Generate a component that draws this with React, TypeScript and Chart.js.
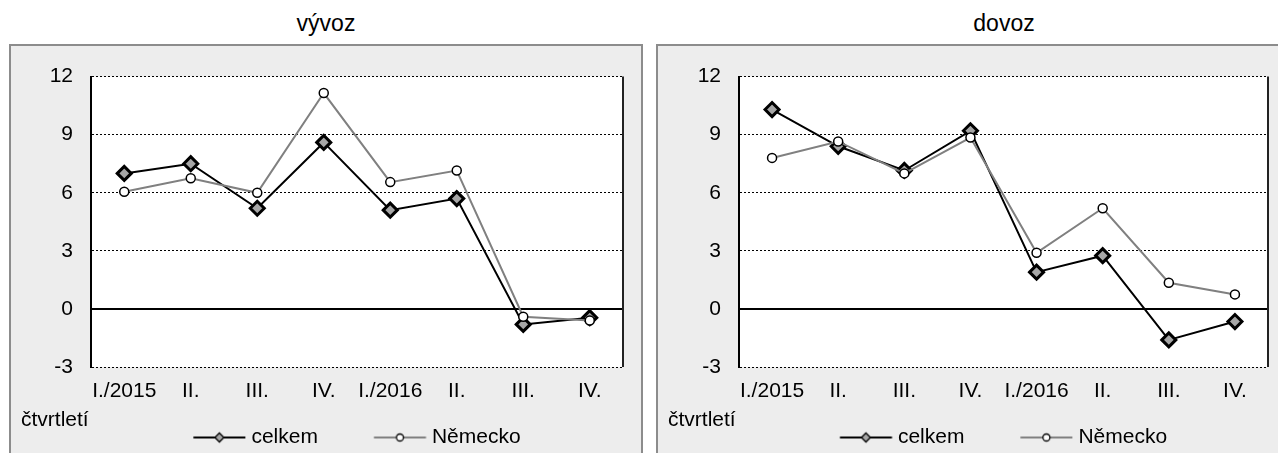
import React, { useEffect, useRef } from 'react';
import { Chart, registerables } from 'chart.js';

Chart.register(...registerables);

// ---- data ----
const categories = ['I./2015', 'II.', 'III.', 'IV.', 'I./2016', 'II.', 'III.', 'IV.'];
const exportTotal = [7.0, 7.5, 5.2, 8.6, 5.1, 5.7, -0.8, -0.45];
const exportGermany = [6.05, 6.75, 6.0, 11.15, 6.55, 7.15, -0.4, -0.6];
const importTotal = [10.3, 8.4, 7.15, 9.2, 1.9, 2.75, -1.6, -0.65];
const importGermany = [7.8, 8.65, 7.0, 8.85, 2.9, 5.2, 1.35, 0.75];
const seriesNames = ['celkem', 'Německo'];
const panelTitles = ['vývoz', 'dovoz'];
const axisLabel = 'čtvrtletí';
const yMin = -3;
const yMax = 12;
const yStep = 3;

const FONT = "'Liberation Sans', Arial, Helvetica, sans-serif";
const FONT_SIZE = 21;

// legend icon geometry: visible line of 52px starting ICON_INSET px into the legend box
const ICON_INSET = 36;
const ICON_BOX = ICON_INSET + 47.5;
const ICON_W = 94;

function makeIcon(kind: 'diamond' | 'circle'): HTMLCanvasElement {
  const c = document.createElement('canvas');
  c.width = ICON_W;
  c.height = 16;
  const g = c.getContext('2d')!;
  const x0 = ICON_W / 2 - ICON_BOX / 2 + ICON_INSET;
  const cx = x0 + 26;
  g.lineWidth = 2;
  g.strokeStyle = kind === 'diamond' ? '#000000' : '#808080';
  g.beginPath();
  g.moveTo(x0, 8);
  g.lineTo(x0 + 52, 8);
  g.stroke();
  if (kind === 'diamond') {
    g.beginPath();
    g.moveTo(cx, 3.5);
    g.lineTo(cx + 4.5, 8);
    g.lineTo(cx, 12.5);
    g.lineTo(cx - 4.5, 8);
    g.closePath();
    g.fillStyle = '#a6a6a6';
    g.fill();
    g.lineWidth = 1.3;
    g.strokeStyle = '#000000';
    g.stroke();
  } else {
    g.beginPath();
    g.arc(cx, 8, 3.5, 0, Math.PI * 2);
    g.fillStyle = '#ffffff';
    g.fill();
    g.lineWidth = 1.3;
    g.strokeStyle = '#000000';
    g.stroke();
  }
  return c;
}

const decorPlugin = {
  id: 'decor',
  afterLayout(chart: any) {
    const lg = chart.legend;
    if (lg) {
      lg.left -= ICON_INSET / 2;
      lg.right -= ICON_INSET / 2;
    }
  },
  beforeDraw(chart: any) {
    const { ctx, chartArea } = chart;
    ctx.save();
    ctx.fillStyle = '#ffffff';
    ctx.fillRect(chartArea.left, chartArea.top, chartArea.right - chartArea.left, chartArea.bottom - chartArea.top);
    ctx.restore();
  },
  beforeDatasetsDraw(chart: any) {
    const { ctx, chartArea, scales } = chart;
    const y0 = scales.y.getPixelForValue(0);
    ctx.save();
    ctx.strokeStyle = '#000000';
    ctx.lineWidth = 2;
    ctx.beginPath();
    ctx.moveTo(chartArea.left, y0);
    ctx.lineTo(chartArea.right, y0);
    ctx.stroke();
    ctx.strokeStyle = '#222222';
    ctx.beginPath();
    ctx.moveTo(chartArea.right, chartArea.top);
    ctx.lineTo(chartArea.right, chartArea.bottom);
    ctx.stroke();
    ctx.restore();
  },
  afterDraw(chart: any) {
    const { ctx, chartArea } = chart;
    ctx.save();
    ctx.font = `${FONT_SIZE}px ${FONT}`;
    ctx.fillStyle = '#000000';
    ctx.textAlign = 'left';
    ctx.textBaseline = 'middle';
    ctx.fillText(axisLabel, 10, chartArea.bottom + 53);
    ctx.restore();
  },
};

type PanelProps = {
  total: number[];
  germany: number[];
  width: number;
  height: number;
  yAxisWidth: number;
  padRight: number;
};

function PanelChart({ total, germany, width, height, yAxisWidth, padRight }: PanelProps) {
  const ref = useRef<HTMLCanvasElement | null>(null);
  useEffect(() => {
    if (!ref.current) return;
    const font = { family: FONT, size: FONT_SIZE };
    const iconD = makeIcon('diamond');
    const iconC = makeIcon('circle');
    const chart = new Chart(ref.current, {
      type: 'line',
      data: {
        labels: categories,
        datasets: [
          {
            label: seriesNames[0],
            data: total,
            borderColor: '#000000',
            borderWidth: 2,
            pointStyle: 'rectRot',
            pointRadius: 7,
            pointBorderWidth: 3,
            pointBackgroundColor: '#a6a6a6',
            pointBorderColor: '#000000',
            tension: 0,
            order: 1,
          },
          {
            label: seriesNames[1],
            data: germany,
            borderColor: '#808080',
            borderWidth: 2,
            pointStyle: 'circle',
            pointRadius: 4.5,
            pointBorderWidth: 1.5,
            pointBackgroundColor: '#ffffff',
            pointBorderColor: '#000000',
            tension: 0,
            order: 0,
          },
        ],
      },
      options: {
        responsive: false,
        animation: false,
        devicePixelRatio: 1,
        events: [],
        layout: { padding: { top: 17, right: padRight, bottom: 0, left: 0 } },
        scales: {
          x: {
            offset: true,
            grid: { display: false, drawTicks: false },
            border: { display: false },
            ticks: {
              padding: 12,
              maxRotation: 0,
              minRotation: 0,
              autoSkip: false,
              color: '#000000',
              font,
            },
            afterFit: (s: any) => {
              s.height = 40;
            },
          },
          y: {
            min: yMin,
            max: yMax,
            ticks: { stepSize: yStep, padding: 18, color: '#000000', font },
            grid: {
              color: (c: any) => (c.tick && c.tick.value === 0 ? 'rgba(0,0,0,0)' : '#000000'),
              lineWidth: 1,
              drawTicks: false,
            },
            border: { display: true, color: '#000000', width: 2, dash: [2, 2] },
            afterFit: (s: any) => {
              s.width = yAxisWidth;
            },
          },
        },
        plugins: {
          tooltip: { enabled: false },
          legend: {
            position: 'bottom',
            fullSize: false,
            labels: {
              usePointStyle: true,
              pointStyleWidth: ICON_BOX,
              padding: 20,
              color: '#000000',
              font,
              generateLabels: () => [
                {
                  text: seriesNames[0],
                  pointStyle: iconD,
                  fillStyle: '#a6a6a6',
                  strokeStyle: '#000000',
                  lineWidth: 0,
                  hidden: false,
                  datasetIndex: 0,
                  fontColor: '#000000',
                } as any,
                {
                  text: seriesNames[1],
                  pointStyle: iconC,
                  fillStyle: '#ffffff',
                  strokeStyle: '#000000',
                  lineWidth: 0,
                  hidden: false,
                  datasetIndex: 1,
                  fontColor: '#000000',
                } as any,
              ],
            },
          },
        },
      } as any,
      plugins: [decorPlugin],
    });
    return () => chart.destroy();
  }, [total, germany, width, height, yAxisWidth, padRight]);
  return (
    <canvas
      ref={ref}
      width={width}
      height={height}
      style={{ position: 'absolute', left: 0, top: 0, width, height }}
    />
  );
}

const titleStyle: React.CSSProperties = {
  position: 'absolute',
  top: 10,
  fontFamily: FONT,
  fontSize: 23,
  lineHeight: '27px',
  textAlign: 'center',
  color: '#000000',
};

const boxStyle: React.CSSProperties = {
  position: 'absolute',
  top: 44,
  height: 420,
  border: '2px solid #8c8c8c',
  background: '#ededed',
  overflow: 'hidden',
};

export default function App() {
  return (
    <div
      style={{
        position: 'absolute',
        left: 0,
        top: 0,
        width: 1278,
        height: 453,
        overflow: 'hidden',
        background: '#ffffff',
      }}
    >
      <div style={{ ...titleStyle, left: 9, width: 634 }}>{panelTitles[0]}</div>
      <div style={{ ...titleStyle, left: 656, width: 696 }}>{panelTitles[1]}</div>
      <div style={{ ...boxStyle, left: 9, width: 630 }}>
        <PanelChart total={exportTotal} germany={exportGermany} width={630} height={412} yAxisWidth={80} padRight={18} />
      </div>
      <div style={{ ...boxStyle, left: 656, width: 700 }}>
        <PanelChart total={importTotal} germany={importGermany} width={620} height={412} yAxisWidth={81} padRight={7} />
      </div>
    </div>
  );
}
